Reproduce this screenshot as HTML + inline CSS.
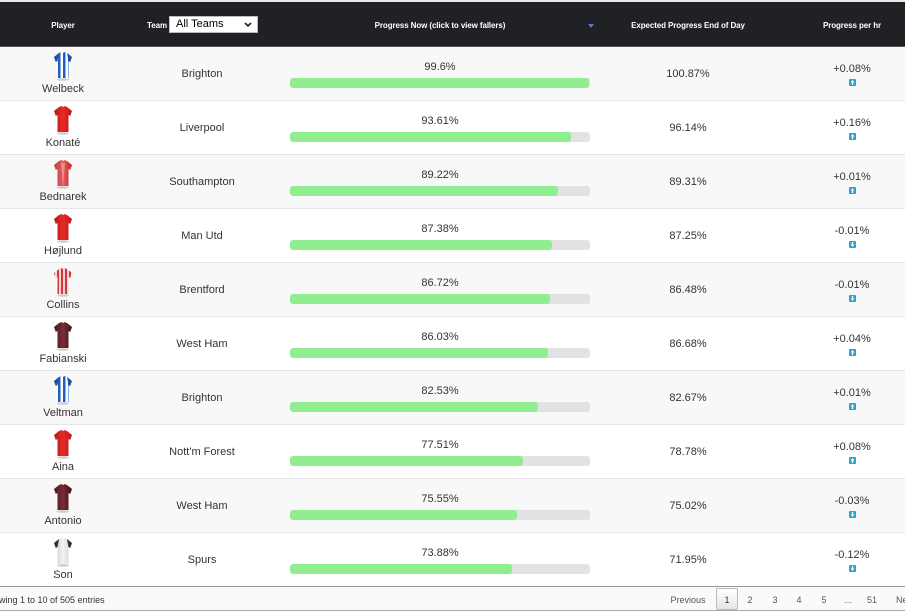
<!DOCTYPE html>
<html><head><meta charset="utf-8">
<style>
*{margin:0;padding:0;box-sizing:border-box}
html,body{width:905px;height:613px;overflow:hidden;background:#fff;font-family:"Liberation Sans",sans-serif;color:#333}
.abs{position:absolute}
.hdr{position:absolute;left:0;top:2px;width:905px;height:45px;background:#202125;border-bottom:1px solid #555}
.ht{position:absolute;top:19px;font-size:8px;font-weight:bold;color:#fff;transform:translateX(-50%);white-space:nowrap;letter-spacing:-0.1px}
.row{position:absolute;left:0;width:905px;height:54px;border-bottom:1px solid #e6e6e6}
.c{position:absolute;transform:translateX(-50%);white-space:nowrap;font-size:11px;line-height:12px}
.bar{position:absolute;left:290px;width:300px;height:10px;background:#e2e2e2;border-radius:3px;overflow:hidden}
.bar i{display:block;height:10px;background:#90ee90;border-radius:3px}
.ic{position:absolute;left:849px;width:7px;height:7px;background:#2a9fd8;border-radius:1px}
.ic svg{display:block}
.pg{position:absolute;top:595px;font-size:9px;color:#555;transform:translateX(-50%)}
</style></head><body>
<div class="abs" style="left:0;top:0;width:905px;height:2px;background:#e8e8e8"></div>
<div class="hdr">
 <div class="ht" style="left:63px">Player</div>
 <div class="ht" style="left:157px">Team</div>
 <div class="abs" style="left:169px;top:14px;width:89px;height:17px;background:#fff;border:1px solid #bbb"></div>
 <div class="abs" style="left:176px;top:16px;font-size:11px;color:#000">All Teams</div>
 <svg class="abs" style="left:244px;top:20px" width="8" height="6"><path d="M1 1 L4 4 L7 1" stroke="#222" stroke-width="1.6" fill="none"/></svg>
 <div class="ht" style="left:440px">Progress Now (click to view fallers)</div>
 <svg class="abs" style="left:588px;top:22px" width="6" height="5"><path d="M0 0 L6 0 L3 4 Z" fill="#6a6fd0"/></svg>
 <div class="ht" style="left:688px">Expected Progress End of Day</div>
 <div class="ht" style="left:852px">Progress per hr</div>
</div>
<div id="rows"></div>

<!-- rows -->
<div class="row" style="top:47px;background:#f8f8f8"></div>
<div class="row" style="top:101px;background:#fff"></div>
<div class="row" style="top:155px;background:#f8f8f8"></div>
<div class="row" style="top:209px;background:#fff"></div>
<div class="row" style="top:263px;background:#f8f8f8"></div>
<div class="row" style="top:317px;background:#fff"></div>
<div class="row" style="top:371px;background:#f8f8f8"></div>
<div class="row" style="top:425px;background:#fff"></div>
<div class="row" style="top:479px;background:#f8f8f8"></div>
<div class="row" style="top:533px;background:#fff;border-bottom:1px solid #999"></div>

<svg width="0" height="0" style="position:absolute">
 <defs>
  <pattern id="bri" width="5" height="28" patternUnits="userSpaceOnUse"><rect width="5" height="28" fill="#fff"/><rect width="2.5" height="28" fill="#1f5fbf"/></pattern>
  <pattern id="rw" width="4" height="28" patternUnits="userSpaceOnUse"><rect width="4" height="28" fill="#f4d0d0"/><rect width="2" height="28" fill="#d23a3a"/></pattern>
  <linearGradient id="red" x1="0" x2="1"><stop offset="0" stop-color="#b81818"/><stop offset=".5" stop-color="#e82a2a"/><stop offset="1" stop-color="#b81818"/></linearGradient>
  <linearGradient id="sou" x1="0" x2="1"><stop offset="0" stop-color="#c43a3a"/><stop offset=".5" stop-color="#e56060"/><stop offset="1" stop-color="#b82828"/></linearGradient>
  <linearGradient id="cla" x1="0" x2="1"><stop offset="0" stop-color="#4a1a22"/><stop offset=".5" stop-color="#7a2b38"/><stop offset="1" stop-color="#3a1218"/></linearGradient>
  <linearGradient id="spu" x1="0" x2="1"><stop offset="0" stop-color="#c8c8cc"/><stop offset=".5" stop-color="#f2f2f2"/><stop offset="1" stop-color="#cfcfd3"/></linearGradient>
  <path id="shirt" d="M6 1 L8.5 0 Q10 1.8 11.5 0 L14 1 L19 5 L17.2 10 L15.5 9 L15.5 26 L4.5 26 L4.5 9 L2.8 10 L1 5 Z"/>
 </defs>
</svg>

<!-- row content generator replaced by static markup -->
<!-- Row 1 -->
<svg class="abs" style="left:53px;top:52px" width="20" height="30"><ellipse cx="10" cy="27.5" rx="6" ry="1.2" fill="#ccc"/><use href="#shirt" fill="url(#bri)"/><path d="M1 5 L6 1 L4.5 9 L2.8 10Z M19 5 L14 1 L15.5 9 L17.2 10Z" fill="#1f4fa8"/></svg>
<div class="c" style="left:63px;top:83px">Welbeck</div>
<div class="c" style="left:202px;top:68px">Brighton</div>
<div class="c" style="left:440px;top:61px">99.6%</div>
<div class="bar" style="top:78px"><i style="width:299px"></i></div>
<div class="c" style="left:688px;top:68px">100.87%</div>
<div class="c" style="left:852px;top:63px">+0.08%</div>
<div class="ic" style="top:79px"><svg width="7" height="7"><path d="M3.5 1 L5.5 3.5 L4.2 3.5 L4.2 6 L2.8 6 L2.8 3.5 L1.5 3.5Z" fill="#fff"/></svg></div>

<!-- Row 2 -->
<svg class="abs" style="left:53px;top:106px" width="20" height="30"><ellipse cx="10" cy="27.5" rx="6" ry="1.2" fill="#ccc"/><use href="#shirt" fill="url(#red)"/></svg>
<div class="c" style="left:63px;top:137px">Konaté</div>
<div class="c" style="left:202px;top:122px">Liverpool</div>
<div class="c" style="left:440px;top:115px">93.61%</div>
<div class="bar" style="top:132px"><i style="width:281px"></i></div>
<div class="c" style="left:688px;top:122px">96.14%</div>
<div class="c" style="left:852px;top:117px">+0.16%</div>
<div class="ic" style="top:133px"><svg width="7" height="7"><path d="M3.5 1 L5.5 3.5 L4.2 3.5 L4.2 6 L2.8 6 L2.8 3.5 L1.5 3.5Z" fill="#fff"/></svg></div>

<!-- Row 3 -->
<svg class="abs" style="left:53px;top:160px" width="20" height="30"><ellipse cx="10" cy="27.5" rx="6" ry="1.2" fill="#ccc"/><use href="#shirt" fill="url(#sou)"/><path d="M8 3 L10 26 L12 3Z" fill="#f0b0b0" opacity=".6"/></svg>
<div class="c" style="left:63px;top:191px">Bednarek</div>
<div class="c" style="left:202px;top:176px">Southampton</div>
<div class="c" style="left:440px;top:169px">89.22%</div>
<div class="bar" style="top:186px"><i style="width:268px"></i></div>
<div class="c" style="left:688px;top:176px">89.31%</div>
<div class="c" style="left:852px;top:171px">+0.01%</div>
<div class="ic" style="top:187px"><svg width="7" height="7"><path d="M3.5 1 L5.5 3.5 L4.2 3.5 L4.2 6 L2.8 6 L2.8 3.5 L1.5 3.5Z" fill="#fff"/></svg></div>

<!-- Row 4 -->
<svg class="abs" style="left:53px;top:214px" width="20" height="30"><ellipse cx="10" cy="27.5" rx="6" ry="1.2" fill="#ccc"/><use href="#shirt" fill="url(#red)"/></svg>
<div class="c" style="left:63px;top:245px">Højlund</div>
<div class="c" style="left:202px;top:230px">Man Utd</div>
<div class="c" style="left:440px;top:223px">87.38%</div>
<div class="bar" style="top:240px"><i style="width:262px"></i></div>
<div class="c" style="left:688px;top:230px">87.25%</div>
<div class="c" style="left:852px;top:225px">-0.01%</div>
<div class="ic" style="top:241px"><svg width="7" height="7"><path d="M3.5 6 L5.5 3.5 L4.2 3.5 L4.2 1 L2.8 1 L2.8 3.5 L1.5 3.5Z" fill="#fff"/></svg></div>

<!-- Row 5 -->
<svg class="abs" style="left:53px;top:268px" width="20" height="30"><ellipse cx="10" cy="27.5" rx="6" ry="1.2" fill="#ccc"/><use href="#shirt" fill="url(#rw)"/></svg>
<div class="c" style="left:63px;top:299px">Collins</div>
<div class="c" style="left:202px;top:284px">Brentford</div>
<div class="c" style="left:440px;top:277px">86.72%</div>
<div class="bar" style="top:294px"><i style="width:260px"></i></div>
<div class="c" style="left:688px;top:284px">86.48%</div>
<div class="c" style="left:852px;top:279px">-0.01%</div>
<div class="ic" style="top:295px"><svg width="7" height="7"><path d="M3.5 6 L5.5 3.5 L4.2 3.5 L4.2 1 L2.8 1 L2.8 3.5 L1.5 3.5Z" fill="#fff"/></svg></div>

<!-- Row 6 -->
<svg class="abs" style="left:53px;top:322px" width="20" height="30"><ellipse cx="10" cy="27.5" rx="6" ry="1.2" fill="#ccc"/><use href="#shirt" fill="url(#cla)"/></svg>
<div class="c" style="left:63px;top:353px">Fabianski</div>
<div class="c" style="left:202px;top:338px">West Ham</div>
<div class="c" style="left:440px;top:331px">86.03%</div>
<div class="bar" style="top:348px"><i style="width:258px"></i></div>
<div class="c" style="left:688px;top:338px">86.68%</div>
<div class="c" style="left:852px;top:333px">+0.04%</div>
<div class="ic" style="top:349px"><svg width="7" height="7"><path d="M3.5 1 L5.5 3.5 L4.2 3.5 L4.2 6 L2.8 6 L2.8 3.5 L1.5 3.5Z" fill="#fff"/></svg></div>

<!-- Row 7 -->
<svg class="abs" style="left:53px;top:376px" width="20" height="30"><ellipse cx="10" cy="27.5" rx="6" ry="1.2" fill="#ccc"/><use href="#shirt" fill="url(#bri)"/><path d="M1 5 L6 1 L4.5 9 L2.8 10Z M19 5 L14 1 L15.5 9 L17.2 10Z" fill="#1f4fa8"/></svg>
<div class="c" style="left:63px;top:407px">Veltman</div>
<div class="c" style="left:202px;top:392px">Brighton</div>
<div class="c" style="left:440px;top:385px">82.53%</div>
<div class="bar" style="top:402px"><i style="width:248px"></i></div>
<div class="c" style="left:688px;top:392px">82.67%</div>
<div class="c" style="left:852px;top:387px">+0.01%</div>
<div class="ic" style="top:403px"><svg width="7" height="7"><path d="M3.5 1 L5.5 3.5 L4.2 3.5 L4.2 6 L2.8 6 L2.8 3.5 L1.5 3.5Z" fill="#fff"/></svg></div>

<!-- Row 8 -->
<svg class="abs" style="left:53px;top:430px" width="20" height="30"><ellipse cx="10" cy="27.5" rx="6" ry="1.2" fill="#ccc"/><use href="#shirt" fill="url(#red)"/></svg>
<div class="c" style="left:63px;top:461px">Aina</div>
<div class="c" style="left:202px;top:446px">Nott'm Forest</div>
<div class="c" style="left:440px;top:439px">77.51%</div>
<div class="bar" style="top:456px"><i style="width:233px"></i></div>
<div class="c" style="left:688px;top:446px">78.78%</div>
<div class="c" style="left:852px;top:441px">+0.08%</div>
<div class="ic" style="top:457px"><svg width="7" height="7"><path d="M3.5 1 L5.5 3.5 L4.2 3.5 L4.2 6 L2.8 6 L2.8 3.5 L1.5 3.5Z" fill="#fff"/></svg></div>

<!-- Row 9 -->
<svg class="abs" style="left:53px;top:484px" width="20" height="30"><ellipse cx="10" cy="27.5" rx="6" ry="1.2" fill="#ccc"/><use href="#shirt" fill="url(#cla)"/></svg>
<div class="c" style="left:63px;top:515px">Antonio</div>
<div class="c" style="left:202px;top:500px">West Ham</div>
<div class="c" style="left:440px;top:493px">75.55%</div>
<div class="bar" style="top:510px"><i style="width:227px"></i></div>
<div class="c" style="left:688px;top:500px">75.02%</div>
<div class="c" style="left:852px;top:495px">-0.03%</div>
<div class="ic" style="top:511px"><svg width="7" height="7"><path d="M3.5 6 L5.5 3.5 L4.2 3.5 L4.2 1 L2.8 1 L2.8 3.5 L1.5 3.5Z" fill="#fff"/></svg></div>

<!-- Row 10 -->
<svg class="abs" style="left:53px;top:538px" width="20" height="30"><ellipse cx="10" cy="27.5" rx="6" ry="1.2" fill="#ccc"/><use href="#shirt" fill="url(#spu)"/><path d="M1 5 L6 1 L4.5 9 L2.8 10Z M19 5 L14 1 L15.5 9 L17.2 10Z" fill="#2a2f4a"/></svg>
<div class="c" style="left:63px;top:569px">Son</div>
<div class="c" style="left:202px;top:554px">Spurs</div>
<div class="c" style="left:440px;top:547px">73.88%</div>
<div class="bar" style="top:564px"><i style="width:222px"></i></div>
<div class="c" style="left:688px;top:554px">71.95%</div>
<div class="c" style="left:852px;top:549px">-0.12%</div>
<div class="ic" style="top:565px"><svg width="7" height="7"><path d="M3.5 6 L5.5 3.5 L4.2 3.5 L4.2 1 L2.8 1 L2.8 3.5 L1.5 3.5Z" fill="#fff"/></svg></div>

<!-- footer -->
<div class="abs" style="left:0;top:587px;width:905px;height:24px;background:#fafafa;border-bottom:1px solid #aaa"></div>
<div class="abs" style="left:-1px;top:595px;font-size:9px;color:#333;white-space:nowrap">wing 1 to 10 of 505 entries</div>
<div class="pg" style="left:688px">Previous</div>
<div class="abs" style="left:716px;top:588px;width:22px;height:22px;border:1px solid #bbb;border-radius:2px;background:linear-gradient(#fff,#e6e6e6)"></div>
<div class="pg" style="left:727px;color:#333">1</div>
<div class="pg" style="left:750px">2</div>
<div class="pg" style="left:775px">3</div>
<div class="pg" style="left:799px">4</div>
<div class="pg" style="left:824px">5</div>
<div class="pg" style="left:848px">…</div>
<div class="pg" style="left:872px">51</div>
<div class="abs" style="left:896px;top:595px;font-size:9px;color:#555">Ne</div>
</body></html>
